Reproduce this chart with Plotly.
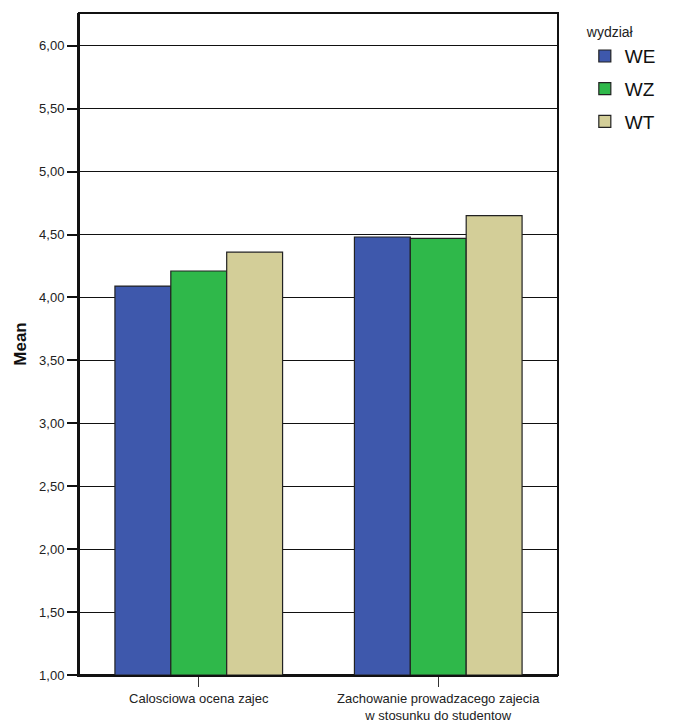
import plotly.graph_objects as go

categories = ["Calosciowa ocena zajec", "Zachowanie prowadzacego zajecia<br>w stosunku do studentow"]
series_names = ["WE", "WZ", "WT"]
we_values = [4.09, 4.48]
wz_values = [4.21, 4.47]
wt_values = [4.36, 4.65]
colors = ["#3e58ac", "#2fb84a", "#d3ce98"]
tick_vals = [1.0, 1.5, 2.0, 2.5, 3.0, 3.5, 4.0, 4.5, 5.0, 5.5, 6.0]
tick_text = ["1,00", "1,50", "2,00", "2,50", "3,00", "3,50", "4,00", "4,50", "5,00", "5,50", "6,00"]

fig = go.Figure()
for name, vals, col in zip(series_names, [we_values, wz_values, wt_values], colors):
    fig.add_trace(go.Bar(
        name=name, x=categories, y=[v - 1.0 for v in vals], base=1.0,
        legendgroup=name,
        marker=dict(color=col, line=dict(color="#222222", width=1.2)),
    ))

fig.update_layout(
    width=682, height=728,
    margin=dict(l=71, r=132, t=5, b=61, autoexpand=False),
    paper_bgcolor="white", plot_bgcolor="white",
    barmode="group", bargap=0.3, bargroupgap=0,
    font=dict(family="Liberation Sans, Arial, sans-serif", color="#222222"),
    showlegend=True,
    legend=dict(
        title=dict(text="wydział", font=dict(size=14, color="#222222")),
        x=1.056, y=0.991, xanchor="left", yanchor="top",
        font=dict(size=19, color="#111111"),
        tracegroupgap=5,
    ),
    xaxis=dict(
        showline=True, linecolor="#111111", linewidth=2, mirror=False,
        ticks="outside", ticklen=10, tickcolor="#333333", tickwidth=1,
        tickfont=dict(size=13, color="#222222"),
        range=[-0.5, 1.5], showgrid=False, automargin=False,
    ),
    yaxis=dict(
        range=[1.0, 6.26], tickvals=tick_vals, ticktext=tick_text,
        showline=True, linecolor="#111111", linewidth=2,
        ticks="outside", ticklen=10, tickcolor="#111111", tickwidth=1.5,
        tickfont=dict(size=13, color="#222222"),
        showgrid=True, gridcolor="#111111", gridwidth=1.2,
        zeroline=False, automargin=False,
        title=dict(text="<b>Mean</b>", font=dict(size=17, color="#111111"), standoff=8),
    ),
)
fig.add_shape(type="rect", xref="paper", yref="paper", x0=0, y0=0, x1=1, y1=1,
              line=dict(color="#111111", width=2), layer="below")

fig.write_html("out.html")
